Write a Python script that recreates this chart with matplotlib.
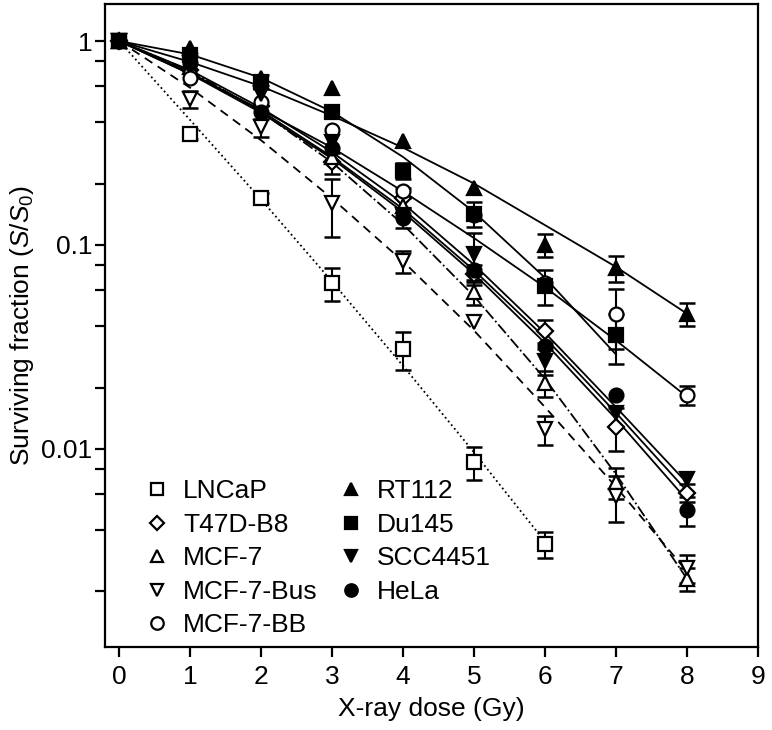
import numpy as np
import matplotlib
matplotlib.use("Agg")
import matplotlib.pyplot as plt
from matplotlib.lines import Line2D

plt.rcParams['font.family'] = ['Liberation Sans', 'DejaVu Sans']
plt.rcParams['mathtext.fontset'] = 'custom'
plt.rcParams['mathtext.rm'] = 'Liberation Sans'
plt.rcParams['mathtext.it'] = 'Liberation Sans:italic'

# measured surviving fractions (dose 0..n Gy)
lncap = [1.0, 0.35, 0.17, 0.065, 0.031, 0.0086, 0.0034]
lncap_err = [0, 0.02, 0.01, 0.012, 0.0065, 0.0016, 0.0005]
t47d = [1.0, 0.72, 0.48, 0.254, 0.17, 0.072, 0.038, 0.0128, 0.0061]
t47d_err = [0, 0, 0, 0.03, 0.02, 0.008, 0.005, 0.003, 0.0006]
mcf7 = [1.0, 0.75, 0.52, 0.27, 0.155, 0.059, 0.021, 0.0069, 0.0023]
mcf7_err = [0, 0, 0, 0, 0.015, 0.008, 0.003, 0.0012, 0.0003]
mcf7bus = [1.0, 0.52, 0.377, 0.16, 0.083, 0.042, 0.0125, 0.0059, 0.0026]
mcf7bus_err = [0, 0.05, 0.04, 0.05, 0.01, 0, 0.002, 0.0015, 0.0004]
mcf7bb = [1.0, 0.66, 0.50, 0.365, 0.185, 0.14, 0.065, 0.046, 0.0184]
mcf7bb_err = [0, 0, 0, 0, 0, 0, 0, 0.015, 0.002]
rt112 = [1.0, 0.93, 0.66, 0.586, 0.325, 0.19, 0.10, 0.077, 0.046]
rt112_err = [0, 0, 0, 0, 0, 0, 0.013, 0.011, 0.006]
du145 = [1.0, 0.85, 0.63, 0.447, 0.231, 0.142, 0.063, 0.036]
du145_err = [0, 0, 0.05, 0, 0.02, 0.02, 0.012, 0.01]
scc4451 = [1.0, 0.80, 0.55, 0.32, 0.14, 0.09, 0.027, 0.015, 0.0071]
scc4451_err = [0, 0, 0, 0, 0, 0.024, 0.004, 0, 0]
hela = [1.0, 0.78, 0.45, 0.30, 0.136, 0.075, 0.032, 0.0184, 0.005]
hela_err = [0, 0, 0, 0, 0.015, 0, 0, 0, 0.0008]

lncap_fit = [1.0, 0.41, 0.167, 0.066, 0.0255, 0.0096, 0.0035]
t47d_fit = [1.0, 0.70, 0.455, 0.27, 0.15, 0.075, 0.035, 0.015, 0.0062]
mcf7_fit = [1.0, 0.715, 0.45, 0.254, 0.126, 0.056, 0.022, 0.0075, 0.0023]
mcf7bus_fit = [1.0, 0.59, 0.326, 0.169, 0.083, 0.038, 0.016, 0.0065, 0.0025]
mcf7bb_fit = [1.0, 0.69, 0.46, 0.30, 0.183, 0.108, 0.062, 0.034, 0.018]
rt112_fit = [1.0, 0.79, 0.60, 0.43, 0.30, 0.20, 0.125, 0.078, 0.046]
du145_fit = [1.0, 0.86, 0.66, 0.45, 0.27, 0.145, 0.069, 0.029]
scc4451_fit = [1.0, 0.72, 0.47, 0.285, 0.16, 0.08, 0.037, 0.016, 0.0068]
hela_fit = [1.0, 0.69, 0.445, 0.265, 0.145, 0.072, 0.033, 0.014, 0.0056]

series = [
    ("LNCaP", lncap, lncap_err, lncap_fit, 's', 'white', ':'),
    ("T47D-B8", t47d, t47d_err, t47d_fit, 'D', 'white', '-'),
    ("MCF-7", mcf7, mcf7_err, mcf7_fit, '^', 'white', '-.'),
    ("MCF-7-Bus", mcf7bus, mcf7bus_err, mcf7bus_fit, 'v', 'white', (0, (5, 3.5))),
    ("MCF-7-BB", mcf7bb, mcf7bb_err, mcf7bb_fit, 'o', 'white', '-'),
    ("RT112", rt112, rt112_err, rt112_fit, '^', 'black', '-'),
    ("Du145", du145, du145_err, du145_fit, 's', 'black', '-'),
    ("SCC4451", scc4451, scc4451_err, scc4451_fit, 'v', 'black', '-'),
    ("HeLa", hela, hela_err, hela_fit, 'o', 'black', '-'),
]

fig = plt.figure(figsize=(7.72, 7.3), dpi=100)
ax = fig.add_axes([0.136, 0.114, 0.846, 0.8805])

for name, y, err, fit, mk, fc, ls in series:
    ax.plot(np.arange(len(fit)), fit, color='black', lw=1.3, ls=ls, zorder=2)

for name, y, err, fit, mk, fc, ls in series:
    x = np.arange(len(y))
    y = np.array(y)
    err = np.array(err)
    has = err > 0
    if has.any():
        ax.errorbar(x[has], y[has], yerr=err[has], fmt='none', ecolor='black',
                    elinewidth=1.5, capsize=6, capthick=1.8, zorder=3)
    ms = 8 if mk == 'D' else 10
    ax.plot(x, y, ls='none', marker=mk, ms=ms, mfc=fc, mec='black',
            mew=1.6, zorder=4)

ax.set_yscale('log')
ax.set_xlim(-0.2, 9)
ax.set_ylim(0.00107, 1.52)
ax.set_xticks(range(10))
ax.set_yticks([1, 0.1, 0.01])
ax.set_yticklabels(['1', '0.1', '0.01'])
ax.yaxis.set_minor_locator(matplotlib.ticker.LogLocator(base=10, subs=[2, 4, 6, 8]))
ax.yaxis.set_minor_formatter(matplotlib.ticker.NullFormatter())
ax.tick_params(axis='both', which='both', direction='out', length=7, width=1.6,
               labelsize=19)
ax.tick_params(axis='x', pad=6)
ax.tick_params(axis='y', pad=2)
for s in ax.spines.values():
    s.set_linewidth(1.6)

ax.set_xlabel('X-ray dose (Gy)', fontsize=19, family=['Liberation Sans Narrow', 'Liberation Sans'], labelpad=6)
ax.set_ylabel(r'Surviving fraction ($\mathit{S}/\mathit{S}_0$)', fontsize=19,
              family=['Liberation Sans Narrow', 'Liberation Sans'], labelpad=4)

handles = [Line2D([], [], ls='none', marker=mk, ms=(7 if mk == 'D' else 9), mfc=fc,
                  mec='black', mew=1.6) for name, y, err, fit, mk, fc, ls in series]
labels = [s[0] for s in series]
ax.legend(handles, labels, ncol=2, loc='lower left', bbox_to_anchor=(0.035, -0.01),
          frameon=False, fontsize=19, handlelength=1.0, handletextpad=0.5,
          columnspacing=0.75, labelspacing=0.36, borderaxespad=0.2)

fig.savefig('out.png', dpi=100)
